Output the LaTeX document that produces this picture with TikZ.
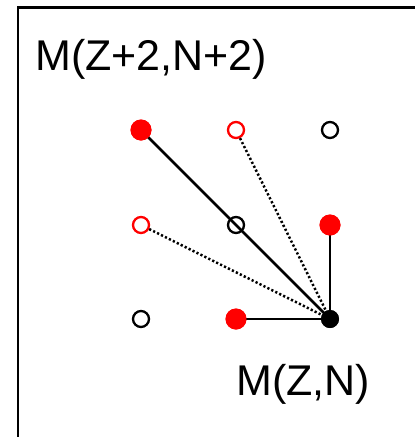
\documentclass[tikz,border=0pt]{standalone}
\usepackage{fontspec}
\setmainfont{Liberation Sans}
\begin{document}
\begin{tikzpicture}[x=1pt,y=-1pt,
  redfull/.style={circle,fill=red,draw=none,minimum size=21pt,inner sep=0pt},
  redopen/.style={circle,draw=red,line width=2.3pt,minimum size=16pt,inner sep=0pt},
  blackopen/.style={circle,draw=black,line width=2.3pt,minimum size=16pt,inner sep=0pt},
  blackfull/.style={circle,fill=black,draw=none,minimum size=18pt,inner sep=0pt},
  conn/.style={line width=2.5pt,black},
  dotconn/.style={line width=2.5pt,black,dash pattern=on 2.2pt off 2.2pt},
  lbl/.style={anchor=base west,inner sep=0pt,font=\fontsize{43}{50}\selectfont}]
\useasboundingbox (0,0) rectangle (415,437);
\fill[white] (0,0) rectangle (415,437);
% frame (open on right and bottom)
\draw[line width=2.8pt] (18,437) -- (18,7.5) -- (415,7.5);
% nodes
\node[redfull]   (a) at (141,130) {};
\node[redopen]   (b) at (236,130) {};
\node[blackopen] (c) at (330,130) {};
\node[redopen]   (d) at (141,225) {};
\node[blackopen] (e) at (236,225) {};
\node[redfull]   (f) at (330,225) {};
\node[blackopen] (g) at (141,319) {};
\node[redfull]   (h) at (236,319) {};
\node[blackfull] (i) at (330,319) {};
% connectors
\draw[conn] (a.center) -- (i.center);
\draw[conn] (h.center) -- (i.center);
\draw[conn] (f.center) -- (i.center);
\draw[dotconn] (b) -- (i.center);
\draw[dotconn] (d) -- (i.center);
% redraw dots on top
\node[redfull]   at (a) {};
\node[redfull]   at (f) {};
\node[redfull]   at (h) {};
\node[blackfull] at (i) {};
% labels
\node[lbl] (t1) at (35,70) {M(Z+2,N+2)};
\node[lbl] (t2) at (236,395) {M(Z,N)};
\end{tikzpicture}
\end{document}
